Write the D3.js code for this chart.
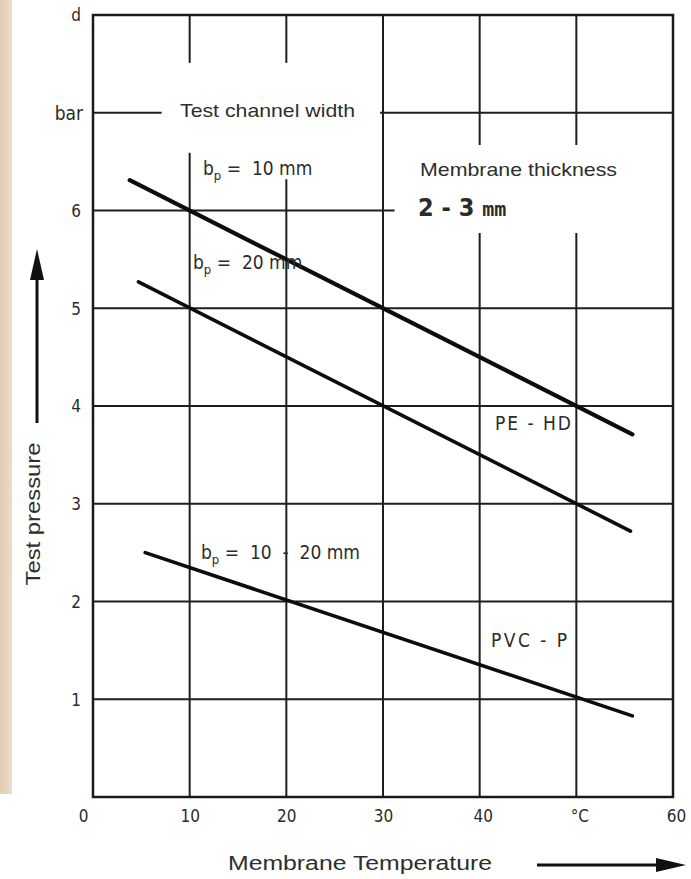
<!DOCTYPE html>
<html>
<head>
<meta charset="utf-8">
<script src="https://cdn.jsdelivr.net/npm/d3@7"></script>
<style>
  body { margin: 0; background: #fff; }
  .din { font-family: "DejaVu Sans Condensed", "Liberation Sans Narrow", "DejaVu Sans", sans-serif; fill: #2b2b2b; white-space: pre; }
  .sans { font-family: "Liberation Sans", Arial, sans-serif; fill: #2e2e2e; white-space: pre; }
</style>
</head>
<body>
<div id="chart-area"></div>
<script>
// axis ticks
var tempTicks = [0, 10, 20, 30, 40, 50, 60];
var tempTickLabels = ["0", "10", "20", "30", "40", "°C", "60"];
var pressureTicks = [1, 2, 3, 4, 5, 6, 7, 8];
var pressureTickLabels = ["1", "2", "3", "4", "5", "6", "bar", "d"];

// PE-HD, test channel width 10 mm
var pe10Temp = [3.8, 55.8];
var pe10Pressure = [6.31, 3.71];
// PE-HD, test channel width 20 mm
var pe20Temp = [4.7, 55.6];
var pe20Pressure = [5.27, 2.72];
// PVC-P, test channel width 10 - 20 mm
var pvcTemp = [5.4, 55.8];
var pvcPressure = [2.5, 0.83];

var W = 691, H = 879;

var svg = d3.select("#chart-area")
    .append("svg")
    .attr("width", W)
    .attr("height", H);

svg.append("rect").attr("width", W).attr("height", H).attr("fill", "#fff");

// beige strip of the scan at the left edge
var grad = svg.append("defs").append("linearGradient")
    .attr("id", "strip").attr("x1", 0).attr("x2", 1);
grad.append("stop").attr("offset", 0).attr("stop-color", "#e2ccb4");
grad.append("stop").attr("offset", 1).attr("stop-color", "#ecdccb");
svg.append("rect").attr("x", 0).attr("y", 0).attr("width", 12).attr("height", 794).attr("fill", "url(#strip)");

var x = d3.scaleLinear().domain([0, 60]).range([93, 673]);
var y = d3.scaleLinear().domain([0, 8]).range([797, 15]);

// gaps in the grid where the labels sit (data units)
var vGaps = { 10: [[7.51, 6.59]], 20: [[7.51, 6.32]], 40: [[6.67, 5.77]], 50: [[6.67, 5.77]] };
var hGaps = { 7: [[7.1, 29.7]], 6: [[31.2, 60]] };

function splitRange(lo, hi, gaps) {
    var segs = [], start = lo;
    (gaps || []).map(function(g) { return [Math.min(g[0], g[1]), Math.max(g[0], g[1])]; })
        .sort(function(a, b) { return a[0] - b[0]; })
        .forEach(function(g) {
            if (g[0] > start) segs.push([start, g[0]]);
            start = Math.max(start, g[1]);
        });
    if (start < hi) segs.push([start, hi]);
    return segs;
}

var grid = svg.append("g").attr("stroke", "#1e1e1e").attr("stroke-width", 2);

tempTicks.slice(1, -1).forEach(function(t) {
    splitRange(0, 8, vGaps[t]).forEach(function(s) {
        grid.append("line")
            .attr("x1", x(t)).attr("x2", x(t))
            .attr("y1", y(s[0])).attr("y2", y(s[1]));
    });
});
pressureTicks.slice(0, -1).forEach(function(p) {
    splitRange(0, 60, hGaps[p]).forEach(function(s) {
        grid.append("line")
            .attr("x1", x(s[0])).attr("x2", x(s[1]))
            .attr("y1", y(p)).attr("y2", y(p));
    });
});

// frame
svg.append("rect")
    .attr("x", x(0)).attr("y", y(8))
    .attr("width", x(60) - x(0)).attr("height", y(0) - y(8))
    .attr("fill", "none").attr("stroke", "#1a1a1a").attr("stroke-width", 2.5);

// axes (labels only)
var xAxis = d3.axisBottom(x)
    .tickValues(tempTicks)
    .tickSize(0)
    .tickPadding(0)
    .tickFormat(function(d, i) { return tempTickLabels[i]; });

svg.append("g")
    .attr("class", "x axis")
    .attr("transform", "translate(0," + 822 + ")")
    .call(xAxis)
    .call(function(g) { g.select(".domain").remove(); })
    .selectAll("text")
    .attr("class", "din")
    .attr("dy", 0)
    .attr("dx", function(d) { return d === 0 ? -10 : (d >= 40 ? 3 : 0); })
    .style("font-size", "17px")
    .style("font-family", null)
    .attr("fill", "#2b2b2b");

var yAxis = d3.axisLeft(y)
    .tickValues(pressureTicks)
    .tickSize(0)
    .tickPadding(0)
    .tickFormat(function(d, i) { return pressureTickLabels[i]; });

svg.append("g")
    .attr("class", "y axis")
    .attr("transform", "translate(" + 83 + ",0)")
    .call(yAxis)
    .call(function(g) { g.select(".domain").remove(); })
    .selectAll("text")
    .attr("class", "din")
    .attr("dy", "0.35em")
    .attr("dx", function(d) { return d === 7 ? 0 : -2; })
    .style("font-size", function(d) { return d === 7 ? "19px" : "17px"; })
    .style("font-family", null)
    .attr("fill", "#2b2b2b");

// the three lines
var line = d3.line()
    .x(function(d) { return x(d[0]); })
    .y(function(d) { return y(d[1]); });

var series = [
    { t: pe10Temp, p: pe10Pressure, w: 4.2 },
    { t: pe20Temp, p: pe20Pressure, w: 3.6 },
    { t: pvcTemp, p: pvcPressure, w: 3.6 }
];

svg.selectAll(".curve")
    .data(series)
    .enter()
    .append("path")
    .attr("class", "curve")
    .attr("d", function(s) { return line(d3.zip(s.t, s.p)); })
    .attr("fill", "none")
    .attr("stroke", "#0d0d0d")
    .attr("stroke-linecap", "round")
    .attr("stroke-width", function(s) { return s.w; });

// labels
function bLabel(px, py, rest) {
    var t = svg.append("text").attr("class", "din")
        .attr("x", px).attr("y", py)
        .style("font-size", "19px");
    t.append("tspan").text("b");
    t.append("tspan").attr("dy", 5).style("font-size", "13px").text("p");
    t.append("tspan").attr("dy", -5).text(rest);
}
bLabel(203, 175, " =  10 mm");
bLabel(193, 269, " =  20 mm");
bLabel(201, 559, " =  10  -  20 mm");

svg.append("text").attr("class", "din")
    .attr("x", 495).attr("y", 430)
    .style("font-size", "19px")
    .attr("textLength", 76).attr("lengthAdjust", "spacing")
    .text("PE - HD");
svg.append("text").attr("class", "din")
    .attr("x", 491).attr("y", 647)
    .style("font-size", "19px")
    .attr("textLength", 76).attr("lengthAdjust", "spacing")
    .text("PVC - P");

svg.append("text").attr("class", "sans")
    .attr("x", 180).attr("y", 117)
    .style("font-size", "19px")
    .attr("textLength", 175).attr("lengthAdjust", "spacingAndGlyphs")
    .text("Test channel width");

svg.append("text").attr("class", "sans")
    .attr("x", 420).attr("y", 176)
    .style("font-size", "19px")
    .attr("textLength", 197).attr("lengthAdjust", "spacingAndGlyphs")
    .text("Membrane thickness");

var thick = svg.append("text").attr("class", "din")
    .attr("x", 418).attr("y", 216)
    .style("font-size", "25px")
    .style("font-weight", "bold")
    .attr("fill", "#111");
thick.append("tspan").text("2 - 3 ");
thick.append("tspan").style("font-size", "20px").style("font-family", "DejaVu Sans Mono").style("font-weight", "bold").text("mm");

// axis titles and arrows
svg.append("text").attr("class", "sans")
    .attr("transform", "translate(40,514) rotate(-90)")
    .attr("text-anchor", "middle")
    .style("font-size", "20px")
    .attr("textLength", 143).attr("lengthAdjust", "spacingAndGlyphs")
    .text("Test pressure");

svg.append("text").attr("class", "sans")
    .attr("x", 228).attr("y", 870)
    .style("font-size", "20px")
    .attr("textLength", 264).attr("lengthAdjust", "spacingAndGlyphs")
    .text("Membrane Temperature");

var arrows = svg.append("g").attr("fill", "#111").attr("stroke", "#111");
arrows.append("line").attr("x1", 37).attr("x2", 37).attr("y1", 423).attr("y2", 270).attr("stroke-width", 3);
arrows.append("path").attr("d", "M37,249 L30,280 L44,280 Z").attr("stroke", "none");
arrows.append("line").attr("x1", 537).attr("x2", 665).attr("y1", 865).attr("y2", 865).attr("stroke-width", 3);
arrows.append("path").attr("d", "M686,865 L656,858 L656,872 Z").attr("stroke", "none");
</script>
</body>
</html>
